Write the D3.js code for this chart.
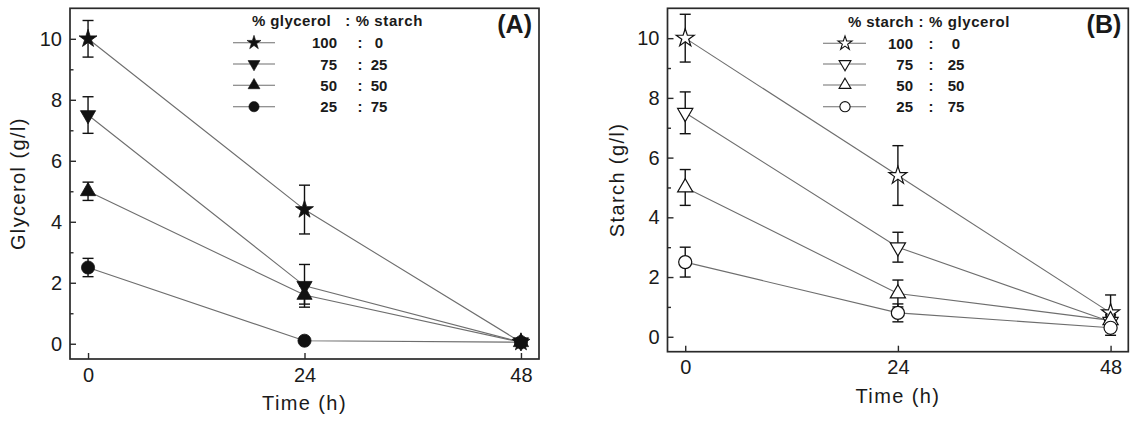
<!DOCTYPE html>
<html><head><meta charset="utf-8">
<script src="https://cdn.jsdelivr.net/npm/d3@7"></script>
<style>
html,body{margin:0;padding:0;background:#fff;}
svg{display:block;}
text{font-family:"Liberation Sans",Arial,sans-serif;fill:#1a1a1a;}
</style></head>
<body>
<svg id="chart" width="1133" height="421"></svg>
<script>
// ---------- data ----------
const times = [0, 24, 48];
const xTicks = [0, 24, 48];
const yTicks = [0, 2, 4, 6, 8, 10];
const yMinorTicks = [1, 3, 5, 7, 9];
const seriesShapes = ["star", "down", "up", "circle"];
const ratioFirst = ["100", "75", "50", "25"];
const ratioSecond = ["0", "25", "50", "75"];

// Panel A: glycerol (g/l)
const glycerol100 = [10.0, 4.4, 0.05];
const glycerol100Err = [0.6, 0.8, 0];
const glycerol75 = [7.5, 1.9, 0.05];
const glycerol75Err = [0.6, 0.7, 0];
const glycerol50 = [5.0, 1.6, 0.05];
const glycerol50Err = [0.3, 0.3, 0];
const glycerol25 = [2.5, 0.1, 0.05];
const glycerol25Err = [0.3, 0, 0];

// Panel B: starch (g/l)
const starch100 = [10.0, 5.4, 0.8];
const starch100Err = [0.8, 1.0, 0.6];
const starch75 = [7.5, 3.0, 0.5];
const starch75Err = [0.7, 0.5, 0.2];
const starch50 = [5.0, 1.45, 0.55];
const starch50Err = [0.6, 0.45, 0.2];
const starch25 = [2.5, 0.8, 0.3];
const starch25Err = [0.5, 0.3, 0.25];

const svg = d3.select("#chart");

const panels = [
  {
    left: 70, right: 539, top: 8.3, bottom: 359,
    filled: true,
    yTitle: "Glycerol (g/l)", tag: "(A)",
    head1: "% glycerol", head2: ": % starch",
    values: [glycerol100, glycerol75, glycerol50, glycerol25],
    errs: [glycerol100Err, glycerol75Err, glycerol50Err, glycerol25Err],
    leg: {lineX0: 233, lineX1: 275, symX: 254, col1: 337, colon: 360, col2: 379, rows: [42.7, 64, 85.3, 106.7], headStart: 252, headEnd: 423, headY: 26},
    yTitleX: 24.5
  },
  {
    left: 667.5, right: 1128.3, top: 8.3, bottom: 351.7,
    filled: false,
    yTitle: "Starch (g/l)", tag: "(B)",
    head1: "% starch", head2: ": % glycerol",
    values: [starch100, starch75, starch50, starch25],
    errs: [starch100Err, starch75Err, starch50Err, starch25Err],
    leg: {lineX0: 823, lineX1: 866, symX: 845, col1: 913, colon: 931, col2: 956, rows: [43.3, 64, 85, 106.7], headStart: 848, headEnd: 1010, headY: 26.5},
    yTitleX: 623.8
  }
];

function symbolPath(shape, scale) {
  let type, size, rot = 0;
  if (shape === "star") { type = d3.symbolStar; size = 100; }
  else if (shape === "down") { type = d3.symbolTriangle; size = 100; rot = 180; }
  else if (shape === "up") { type = d3.symbolTriangle; size = 100; }
  else { type = d3.symbolCircle; size = 135; }
  return {d: d3.symbol().type(type).size(size * scale * scale)(), rot};
}

panels.forEach(p => {
  const x = d3.scaleLinear().domain([-2, 50]).range([p.left, p.right]);
  const y = d3.scaleLinear().domain([-0.5, 11]).range([p.bottom, p.top]);
  const g = svg.append("g");

  // frame
  g.append("rect").attr("x", p.left).attr("y", p.top)
    .attr("width", p.right - p.left).attr("height", p.bottom - p.top)
    .attr("fill", "none").attr("stroke", "#2a2a2a").attr("stroke-width", 1.7);

  // y axis (inward ticks)
  const yAxis = g.append("g").attr("transform", `translate(${p.left},0)`)
    .call(d3.axisLeft(y).tickValues(yTicks).tickSize(-6).tickPadding(8).tickFormat(d3.format("d")));
  yAxis.select(".domain").remove();
  yAxis.selectAll(".tick line").attr("stroke", "#2a2a2a").attr("stroke-width", 1.4);
  yAxis.selectAll(".tick text").attr("font-size", 20).attr("fill", "#1a1a1a")
    .attr("font-family", '"Liberation Sans",Arial,sans-serif');
  const yMinor = g.append("g").attr("transform", `translate(${p.left},0)`)
    .call(d3.axisLeft(y).tickValues(yMinorTicks).tickSize(-3.5).tickFormat(""));
  yMinor.select(".domain").remove();
  yMinor.selectAll(".tick line").attr("stroke", "#2a2a2a").attr("stroke-width", 1.4);

  // x axis (inward ticks)
  const xAxis = g.append("g").attr("transform", `translate(0,${p.bottom})`)
    .call(d3.axisBottom(x).tickValues(xTicks).tickSize(-6).tickPadding(8.5).tickFormat(d3.format("d")));
  xAxis.select(".domain").remove();
  xAxis.selectAll(".tick line").attr("stroke", "#2a2a2a").attr("stroke-width", 1.4);
  xAxis.selectAll(".tick text").attr("font-size", 20).attr("fill", "#1a1a1a")
    .attr("font-family", '"Liberation Sans",Arial,sans-serif');

  // axis titles
  g.append("text").attr("x", (p.left + p.right) / 2).attr("y", p.bottom + 51)
    .attr("text-anchor", "middle").attr("font-size", 20).attr("letter-spacing", 1.4)
    .text("Time (h)");
  g.append("text").attr("transform", `translate(${p.yTitleX},${(p.top + p.bottom) / 2}) rotate(-90)`)
    .attr("text-anchor", "middle").attr("font-size", 20).attr("letter-spacing", 1.4)
    .text(p.yTitle);

  // panel tag
  g.append("text").attr("x", p.right - 7).attr("y", 33).attr("text-anchor", "end")
    .attr("font-size", 25).attr("font-weight", "bold").text(p.tag);

  const line = d3.line().x((d, i) => x(times[i])).y(d => y(d));

  // series lines
  p.values.forEach(vals => {
    g.append("path").datum(vals).attr("d", line)
      .attr("fill", "none").attr("stroke", "#6e6e6e").attr("stroke-width", 1.1);
  });

  // error bars
  p.values.forEach((vals, si) => {
    const errs = p.errs[si];
    vals.forEach((v, i) => {
      const e = errs[i];
      if (e > 0) {
        const cx = x(times[i]);
        const eb = g.append("g").attr("stroke", "#111").attr("stroke-width", 1.4).attr("fill", "none");
        eb.append("line").attr("x1", cx).attr("x2", cx).attr("y1", y(v + e)).attr("y2", y(v - e));
        eb.append("line").attr("x1", cx - 5.5).attr("x2", cx + 5.5).attr("y1", y(v + e)).attr("y2", y(v + e));
        eb.append("line").attr("x1", cx - 5.5).attr("x2", cx + 5.5).attr("y1", y(v - e)).attr("y2", y(v - e));
      }
    });
  });
  // markers
  p.values.forEach((vals, si) => {
    const sp = symbolPath(seriesShapes[si], 1);
    g.selectAll(null).data(vals).enter().append("path")
      .attr("d", sp.d)
      .attr("transform", (d, i) => `translate(${x(times[i])},${y(d)}) rotate(${sp.rot})`)
      .attr("fill", p.filled ? "#111" : "#fff")
      .attr("stroke", "#111").attr("stroke-width", p.filled ? 0.8 : 1.2);
  });

  // legend
  const L = p.leg;
  g.append("text").attr("x", L.headStart).attr("y", L.headY).attr("font-size", 15)
    .attr("font-weight", "bold").attr("letter-spacing", 0.4).text(p.head1);
  g.append("text").attr("x", L.headEnd).attr("y", L.headY).attr("font-size", 15)
    .attr("text-anchor", "end").attr("font-weight", "bold").attr("letter-spacing", 0.6).text(p.head2);
  L.rows.forEach((ry, si) => {
    g.append("line").attr("x1", L.lineX0).attr("x2", L.lineX1).attr("y1", ry).attr("y2", ry)
      .attr("stroke", "#6e6e6e").attr("stroke-width", 1.1);
    const sp = symbolPath(seriesShapes[si], 0.78);
    g.append("path").attr("d", sp.d)
      .attr("transform", `translate(${L.symX},${ry}) rotate(${sp.rot})`)
      .attr("fill", p.filled ? "#111" : "#fff")
      .attr("stroke", "#111").attr("stroke-width", p.filled ? 0.6 : 1.1);
    g.append("text").attr("x", L.col1).attr("y", ry + 5.5).attr("text-anchor", "end")
      .attr("font-size", 15).attr("font-weight", "bold").text(ratioFirst[si]);
    g.append("text").attr("x", L.colon).attr("y", ry + 5.5).attr("text-anchor", "middle")
      .attr("font-size", 15).attr("font-weight", "bold").text(":");
    g.append("text").attr("x", L.col2).attr("y", ry + 5.5).attr("text-anchor", "middle")
      .attr("font-size", 15).attr("font-weight", "bold").text(ratioSecond[si]);
  });
});
</script>
</body></html>
